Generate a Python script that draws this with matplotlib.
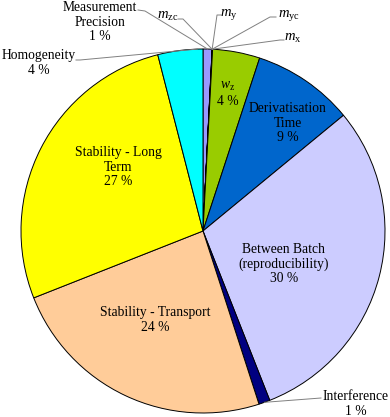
import numpy as np
import matplotlib
matplotlib.use("Agg")
import matplotlib.pyplot as plt

plt.rcParams['font.family'] = ['Liberation Serif', 'DejaVu Serif']
plt.rcParams['mathtext.fontset'] = 'custom'
plt.rcParams['mathtext.rm'] = 'Liberation Serif'
plt.rcParams['mathtext.it'] = 'Liberation Serif:italic'

# contributions to the uncertainty budget, clockwise from the top (%)
names = ['Measurement Precision', 'm_zc', 'm_y', 'm_yc', 'm_x', 'w_z',
         'Derivatisation Time', 'Between Batch', 'Interference',
         'Stability - Transport', 'Stability - Long Term', 'Homogeneity']
values = [0.8, 0.01, 0.01, 0.01, 0.01, 4.2, 9, 30, 1, 24, 27, 4]
colors = ['#9999FF', '#9999FF', '#9999FF', '#9999FF', '#9999FF', '#99CC00',
          '#0066CC', '#CCCCFF', '#000080', '#FFCC99', '#FFFF00', '#00FFFF']

H = 417
cx, cy, R = 203, H - 231, 182
FS = 9.8

fig = plt.figure(figsize=(3.9, 4.17), dpi=100)
ax = fig.add_axes([0, 0, 1, 1])
ax.pie(values, colors=colors, startangle=90, counterclock=False,
       center=(cx, cy), radius=R,
       wedgeprops=dict(edgecolor='black', linewidth=0.7))
ax.set_xlim(0, 390)
ax.set_ylim(0, H)
ax.set_aspect('equal')
ax.axis('off')

cum = np.cumsum([0] + values) / sum(values)


def edge(frac):
    a = np.deg2rad(90 - 360 * frac)
    return cx + R * np.cos(a), cy + R * np.sin(a)


def txt(x, y, s, fs=FS, **kw):
    ax.text(x, H - y, s, ha='center', va='center', fontsize=fs,
            linespacing=1.15, **kw)


def leader(points, end):
    xs = [p[0] for p in points] + [end[0]]
    ys = [H - p[1] for p in points] + [end[1]]
    ax.plot(xs, ys, color='#808080', lw=0.7)


# labels inside the slices
txt(228, 94, '$\\mathit{w}_{\\mathrm{z}}$\n4 %')
txt(288, 123, 'Derivatisation\nTime\n9 %')
txt(284, 264, 'Between Batch\n(reproducibility)\n30 %')
txt(155, 320, 'Stability - Transport\n24 %')
txt(118, 167, 'Stability - Long\nTerm\n27 %')

# outside labels with leader lines
top = edge(cum[1])
txt(100, 22, 'Measurement\nPrecision\n1 %')
leader([(138, 10), (145, 11)], edge(cum[0] + 0.004))
txt(168, 16, '$\\mathit{m}_{\\mathrm{zc}}$', fs=10.5)
leader([(178, 19), (183, 19)], top)
txt(229, 14, '$\\mathit{m}_{\\mathrm{y}}$', fs=10.5)
leader([(221, 15), (217, 15)], top)
txt(289, 15, '$\\mathit{m}_{\\mathrm{yc}}$', fs=10.5)
leader([(276, 17), (270, 17)], top)
txt(293, 38, '$\\mathit{m}_{\\mathrm{x}}$', fs=10.5)
leader([(284, 40), (280, 40)], top)
txt(39, 63, 'Homogeneity\n4 %')
leader([(76, 60), (80, 60)], edge(0.995))
txt(356, 404, 'Interference\n1 %')
leader([(321, 398)], edge((cum[8] + cum[9]) / 2))

fig.savefig('out.png', dpi=100)
